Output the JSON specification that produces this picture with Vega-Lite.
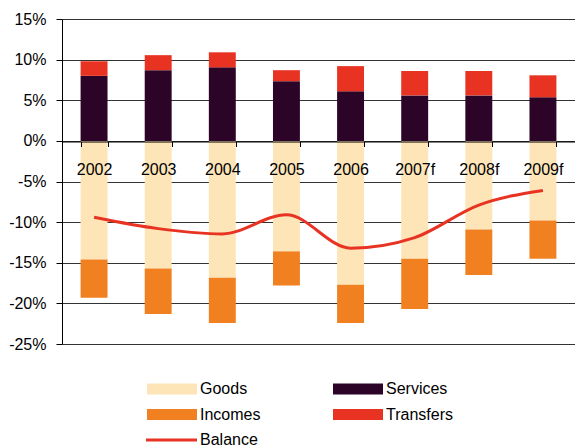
{
  "$schema": "https://vega.github.io/schema/vega-lite/v6.json",
  "autosize": "none",
  "width": 513,
  "height": 325,
  "padding": {"left": 62, "top": 19, "right": 0, "bottom": 102},
  "background": "white",
  "config": {
    "font": "Liberation Sans",
    "view": {"stroke": null},
    "axis": {"labelFont": "Liberation Sans", "labelFontSize": 16, "labelColor": "black"},
    "legend": {"labelFont": "Liberation Sans", "labelFontSize": 16, "labelColor": "black"}
  },
  "datasets": {
    "bars": [
      {"year": "2002", "component": "Services", "value": 8.0},
      {"year": "2002", "component": "Transfers", "value": 1.8},
      {"year": "2002", "component": "Goods", "value": -14.6},
      {"year": "2002", "component": "Incomes", "value": -4.7},
      {"year": "2003", "component": "Services", "value": 8.7},
      {"year": "2003", "component": "Transfers", "value": 1.85},
      {"year": "2003", "component": "Goods", "value": -15.7},
      {"year": "2003", "component": "Incomes", "value": -5.6},
      {"year": "2004", "component": "Services", "value": 9.05},
      {"year": "2004", "component": "Transfers", "value": 1.85},
      {"year": "2004", "component": "Goods", "value": -16.85},
      {"year": "2004", "component": "Incomes", "value": -5.55},
      {"year": "2005", "component": "Services", "value": 7.35},
      {"year": "2005", "component": "Transfers", "value": 1.35},
      {"year": "2005", "component": "Goods", "value": -13.6},
      {"year": "2005", "component": "Incomes", "value": -4.2},
      {"year": "2006", "component": "Services", "value": 6.1},
      {"year": "2006", "component": "Transfers", "value": 3.1},
      {"year": "2006", "component": "Goods", "value": -17.7},
      {"year": "2006", "component": "Incomes", "value": -4.7},
      {"year": "2007f", "component": "Services", "value": 5.6},
      {"year": "2007f", "component": "Transfers", "value": 3.0},
      {"year": "2007f", "component": "Goods", "value": -14.5},
      {"year": "2007f", "component": "Incomes", "value": -6.2},
      {"year": "2008f", "component": "Services", "value": 5.6},
      {"year": "2008f", "component": "Transfers", "value": 3.0},
      {"year": "2008f", "component": "Goods", "value": -10.9},
      {"year": "2008f", "component": "Incomes", "value": -5.6},
      {"year": "2009f", "component": "Services", "value": 5.37},
      {"year": "2009f", "component": "Transfers", "value": 2.7},
      {"year": "2009f", "component": "Goods", "value": -9.8},
      {"year": "2009f", "component": "Incomes", "value": -4.7}
    ],
    "balance": [
      {"year": "2002", "component": "Balance", "value": -9.4},
      {"year": "2003", "component": "Balance", "value": -10.8},
      {"year": "2004", "component": "Balance", "value": -11.45},
      {"year": "2005", "component": "Balance", "value": -9.1},
      {"year": "2006", "component": "Balance", "value": -13.2},
      {"year": "2007f", "component": "Balance", "value": -11.9},
      {"year": "2008f", "component": "Balance", "value": -7.9},
      {"year": "2009f", "component": "Balance", "value": -6.1}
    ]
  },
  "encoding": {
    "x": {
      "field": "year",
      "type": "ordinal",
      "scale": {"paddingInner": 0.58, "paddingOuter": 0.29},
      "axis": {
        "title": null,
        "labelAngle": 0,
        "offset": -202.5,
        "tickBand": "extent",
        "tickSize": 5,
        "tickColor": "black",
        "domainColor": "black",
        "labelPadding": 15,
        "zindex": 1,
        "grid": false
      }
    },
    "y": {
      "field": "value",
      "type": "quantitative",
      "scale": {"domain": [-25, 15], "nice": false},
      "axis": {
        "title": null,
        "values": [-25, -20, -15, -10, -5, 0, 5, 10, 15],
        "labelExpr": "datum.value + '%'",
        "grid": true,
        "gridColor": "#333",
        "gridWidth": 1,
        "gridOpacity": 1,
        "domainColor": "black",
        "tickColor": "black",
        "tickSize": 6,
        "labelPadding": 10,
        "zindex": 0
      }
    },
    "color": {
      "field": "component",
      "type": "nominal",
      "scale": {
        "domain": ["Goods", "Services", "Incomes", "Transfers", "Balance"],
        "range": ["#FDE5B7", "#2B0427", "#F08020", "#E83323", "#E83323"]
      },
      "legend": {
        "title": null,
        "orient": "none",
        "legendX": 100,
        "legendY": 360,
        "columns": 2,
        "direction": "horizontal",
        "columnPadding": 72,
        "rowPadding": 7.5,
        "symbolSize": 400,
        "symbolStrokeWidth": 0,
        "symbolOpacity": 1,
        "labelOffset": 18,
        "encode": {
          "symbols": {
            "update": {
              "shape": {"signal": "datum.value === 'Balance' ? 'M-2.6,-0.15H2.5V0.15H-2.6Z' : 'M-2.5,-0.55H2.5V0.55H-2.5Z'"},
              "strokeWidth": {"value": 0}
            }
          }
        }
      }
    }
  },
  "layer": [
    {
      "data": {"name": "bars"},
      "mark": {"type": "bar"},
      "encoding": {
        "order": {"field": "component", "type": "nominal", "sort": "ascending"}
      }
    },
    {
      "data": {"name": "balance"},
      "mark": {"type": "line", "interpolate": "monotone", "strokeWidth": 3},
      "encoding": {
        "x": {"field": "year", "type": "ordinal", "bandPosition": 0.5}
      }
    }
  ]
}
